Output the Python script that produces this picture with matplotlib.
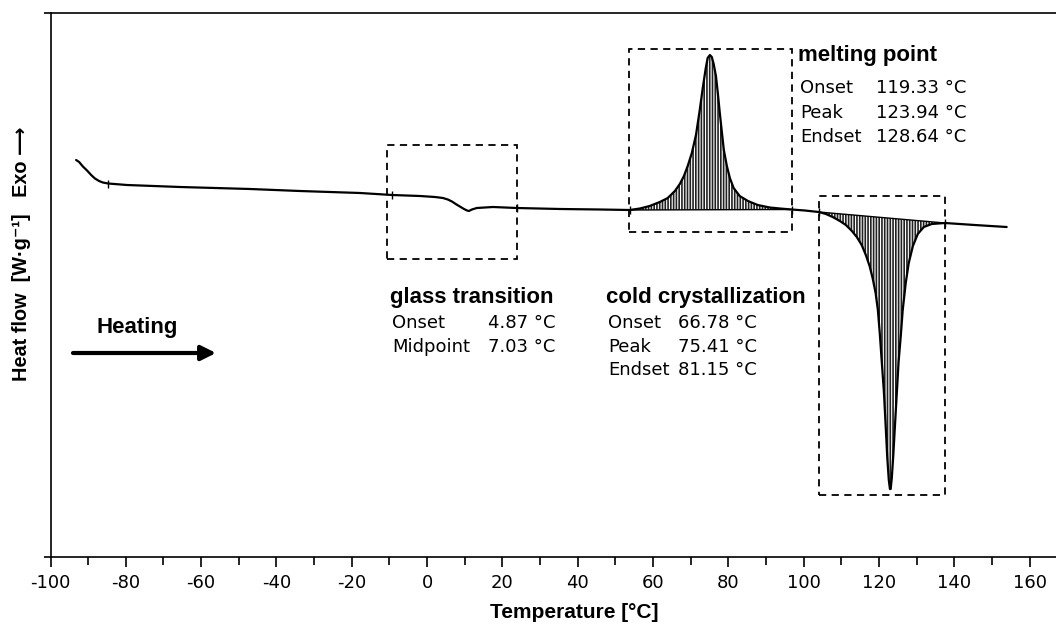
import numpy as np
import matplotlib
matplotlib.use("Agg")
import matplotlib.pyplot as plt
from matplotlib.patches import Rectangle
from matplotlib.ticker import MultipleLocator

# ---------------- data ----------------
temperature = [-93.2, -92.4, -91.4, -90.3, -89.2, -88.2, -87.1, -86.1, -84.7, -79.7,
               -65.6, -47.0, -33.8, -17.8, -9.3, -1.9, 2.1, 4.2, 5.5, 6.6,
               7.6, 8.7, 9.8, 10.6, 11.1, 11.9, 13.2, 17.5, 23.8, 35.3,
               45.9,
               53.8, 56.5, 59.1, 61.8, 63.9, 65.8, 67.1, 68.2, 69.2, 70.3,
               71.4, 72.4, 73.2, 74.0, 74.5, 75.1, 75.6, 76.1, 76.7, 77.2,
               77.7, 78.3, 78.8, 79.6, 80.4, 81.4, 83.0, 85.2, 87.8, 91.0,
               93.7, 96.8, 100.3,
               104.0, 105.9, 107.7, 109.6, 111.2, 112.8, 114.1, 115.4, 116.5, 117.5,
               118.3, 119.1, 119.7, 120.2, 120.7, 121.3, 121.8, 122.2, 122.6, 122.9,
               123.1, 123.4, 123.8, 124.2, 124.7, 125.2, 125.8, 126.3, 127.1, 127.9,
               129.0, 130.3, 131.9, 134.0, 137.5, 145.4, 153.9]
heat_flow = [397, 395, 390.5, 386.5, 382, 378.5, 376, 374.5, 373.5, 372,
             370, 368, 366, 364, 362, 361, 360, 359, 357.5, 355.5,
             353, 350.5, 348, 346.5, 346, 347.5, 349, 350, 349, 348,
             347.5,
             347, 348.5, 351, 355, 359, 366, 373, 381, 391, 404,
             422, 447, 469, 489, 499, 502, 500, 493, 481, 464,
             445, 424, 407, 391, 379, 369, 361, 356, 352, 349.5,
             348.5, 347.5, 346.5,
             345, 343, 340, 336, 332, 326, 320, 312, 302, 291,
             279, 264, 247, 224, 197, 165, 129, 99, 77, 68,
             68, 79, 102, 129, 162, 195, 222, 247, 274, 294,
             311, 323, 330, 333, 334, 332, 330]

cryst_range = (53.8, 96.8)     # integration limits, cold crystallization
melt_range = (104.0, 137.5)    # integration limits, melting

limit_T = [-84.7, -9.3, 23.8, 53.8, 96.8, 104.0, 137.5]
limit_y = [373.5, 362, 349, 347, 347.5, 345, 334]

# dashed frames: (T_left, T_right, y_bottom, y_top)
glass_box = (-10.6, 23.8, 298, 412)
cryst_box = (53.6, 96.9, 325, 508)
melt_box = (104.0, 137.5, 62, 361)

x_ticks = list(range(-100, 161, 20))

glass_labels = ["Onset", "Midpoint"]
glass_values = ["4.87 °C", "7.03 °C"]
cryst_labels = ["Onset", "Peak", "Endset"]
cryst_values = ["66.78 °C", "75.41 °C", "81.15 °C"]
melt_labels = ["Onset", "Peak", "Endset"]
melt_values = ["119.33 °C", "123.94 °C", "128.64 °C"]

# ---------------- figure ----------------
W, H = 1056, 629
plt.rcParams['hatch.linewidth'] = 1.2

fig = plt.figure(figsize=(W / 100, H / 100), dpi=100)
ax = fig.add_axes([50.5 / W, 72 / H, 1005.5 / W, 544 / H])
ax.set_xlim(-100, 167.0)
ax.set_ylim(0, 544)

T = np.array(temperature)
Y = np.array(heat_flow)

for lo, hi in (cryst_range, melt_range):
    m = (T >= lo) & (T <= hi)
    ax.fill(T[m], Y[m], facecolor='white', edgecolor='#222222', hatch='||||||',
            linewidth=0, zorder=2)
    ax.plot([T[m][0], T[m][-1]], [Y[m][0], Y[m][-1]], color='black', lw=1.0, zorder=3)

ax.plot(T, Y, color='black', lw=1.6, zorder=4, solid_capstyle='round',
        solid_joinstyle='round')
ax.plot(limit_T, limit_y, ls='none', marker='|', ms=6, mew=1.0, color='black', zorder=5)

for (x0, x1, y0, y1) in (glass_box, cryst_box, melt_box):
    ax.add_patch(Rectangle((x0, y0), x1 - x0, y1 - y0, fill=False, edgecolor='black',
                           lw=1.3, linestyle=(0, (4, 3)), zorder=6))

# axes styling
ax.spines['right'].set_visible(False)
for s in ['left', 'top', 'bottom']:
    ax.spines[s].set_linewidth(1.2)
ax.set_xticks(x_ticks)
ax.set_xticklabels([str(v) for v in x_ticks], fontsize=13, family='DejaVu Sans')
ax.xaxis.set_minor_locator(MultipleLocator(10))
ax.tick_params(axis='x', which='major', direction='out', length=7, width=1.2, pad=5)
ax.tick_params(axis='x', which='minor', direction='out', length=6, width=1.2)
ax.set_yticks([0, 544])
ax.set_yticklabels([])
ax.tick_params(axis='y', direction='out', length=5, width=1.2)


def fpx(x, y):
    return x / W, 1 - y / H


fam = ['Liberation Sans', 'DejaVu Sans']
bold = dict(family=fam, fontweight='bold', fontsize=16)
norm = dict(family='DejaVu Sans', fontsize=13)

fig.text(*fpx(574, 612), 'Temperature [°C]', ha='center', va='center',
         family=fam, fontweight='bold', fontsize=15)
fig.text(*fpx(22, 254), 'Heat flow  [W·g⁻¹]   Exo ⟶', rotation=90,
         ha='center', va='center', family=fam, fontweight='bold', fontsize=14.3)

# glass transition
fig.text(*fpx(390, 303), 'glass transition', ha='left', va='baseline', **bold)
for i, (lab, val) in enumerate(zip(glass_labels, glass_values)):
    yb = 328 + i * 24
    fig.text(*fpx(392, yb), lab, ha='left', va='baseline', **norm)
    fig.text(*fpx(555, yb), val, ha='right', va='baseline', **norm)

# cold crystallization
fig.text(*fpx(606, 303), 'cold crystallization', ha='left', va='baseline', **bold)
for i, (lab, val) in enumerate(zip(cryst_labels, cryst_values)):
    yb = 328 + i * 23.5
    fig.text(*fpx(608, yb), lab, ha='left', va='baseline', **norm)
    fig.text(*fpx(678, yb), val, ha='left', va='baseline', **norm)

# melting point
fig.text(*fpx(798, 61), 'melting point', ha='left', va='baseline', **bold)
for i, (lab, val) in enumerate(zip(melt_labels, melt_values)):
    yb = 93 + i * 24.5
    fig.text(*fpx(800, yb), lab, ha='left', va='baseline', **norm)
    fig.text(*fpx(876, yb), val, ha='left', va='baseline', **norm)

# heating arrow
fig.text(*fpx(97, 333), 'Heating', ha='left', va='baseline', **bold)
ax.annotate('', xy=(216, H - 353), xytext=(73, H - 353), xycoords='figure pixels',
            textcoords='figure pixels',
            arrowprops=dict(arrowstyle='-|>', lw=3, color='black', mutation_scale=22,
                            shrinkA=0, shrinkB=0))

fig.savefig('out.png', dpi=100)
